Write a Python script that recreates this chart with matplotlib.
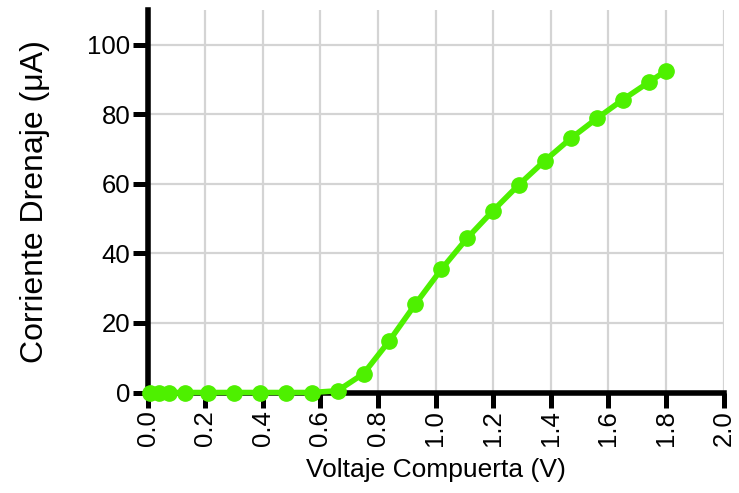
import matplotlib
matplotlib.use("Agg")
import matplotlib.pyplot as plt

# Data
voltaje = [0.01, 0.04, 0.075, 0.13, 0.21, 0.30, 0.39, 0.48, 0.57, 0.66,
           0.75, 0.84, 0.93, 1.02, 1.11, 1.20, 1.29, 1.38, 1.47, 1.56,
           1.65, 1.74, 1.80]
corriente = [0, 0, 0, 0, 0, 0, 0, 0, 0, 0.5,
             5.4, 14.9, 25.4, 35.4, 44.4, 52.3, 59.8, 66.7, 73.1, 78.8,
             84.2, 89.2, 92.5]
xticks = [0.0, 0.2, 0.4, 0.6, 0.8, 1.0, 1.2, 1.4, 1.6, 1.8, 2.0]
yticks = [0, 20, 40, 60, 80, 100]
xlabel = "Voltaje Compuerta (V)"
ylabel = "Corriente Drenaje (\u03bcA)"

plt.rcParams['font.family'] = ['Liberation Sans', 'DejaVu Sans']

fig = plt.figure(figsize=(7.39, 4.93), dpi=100)
ax = fig.add_axes([147.5/739, (493-392.5)/493, (723.5-147.5)/739, (392.5-10)/493])

ax.plot(voltaje, corriente, color='#4EF000', lw=4, marker='o', ms=11,
        clip_on=False, zorder=5)

ax.set_xlim(0, 2.0)
ax.set_ylim(0, 110)
ax.set_xticks(xticks)
ax.set_xticklabels([f"{t:.1f}" for t in xticks], rotation=90)
ax.set_yticks(yticks)
ax.grid(True, color='#d4d4d4', lw=1.6)
ax.set_axisbelow(True)

for s in ['top', 'right']:
    ax.spines[s].set_visible(False)
for s in ['left', 'bottom']:
    ax.spines[s].set_linewidth(4)
    ax.spines[s].set_zorder(3)

ax.tick_params(axis='both', width=3.6, length=10.5, labelsize=18.5, pad=2, color='black')

ax.set_xlabel(xlabel, fontsize=19, labelpad=9)
ax.set_ylabel(ylabel, fontsize=23, labelpad=27)

fig.savefig('out.png', dpi=100)
